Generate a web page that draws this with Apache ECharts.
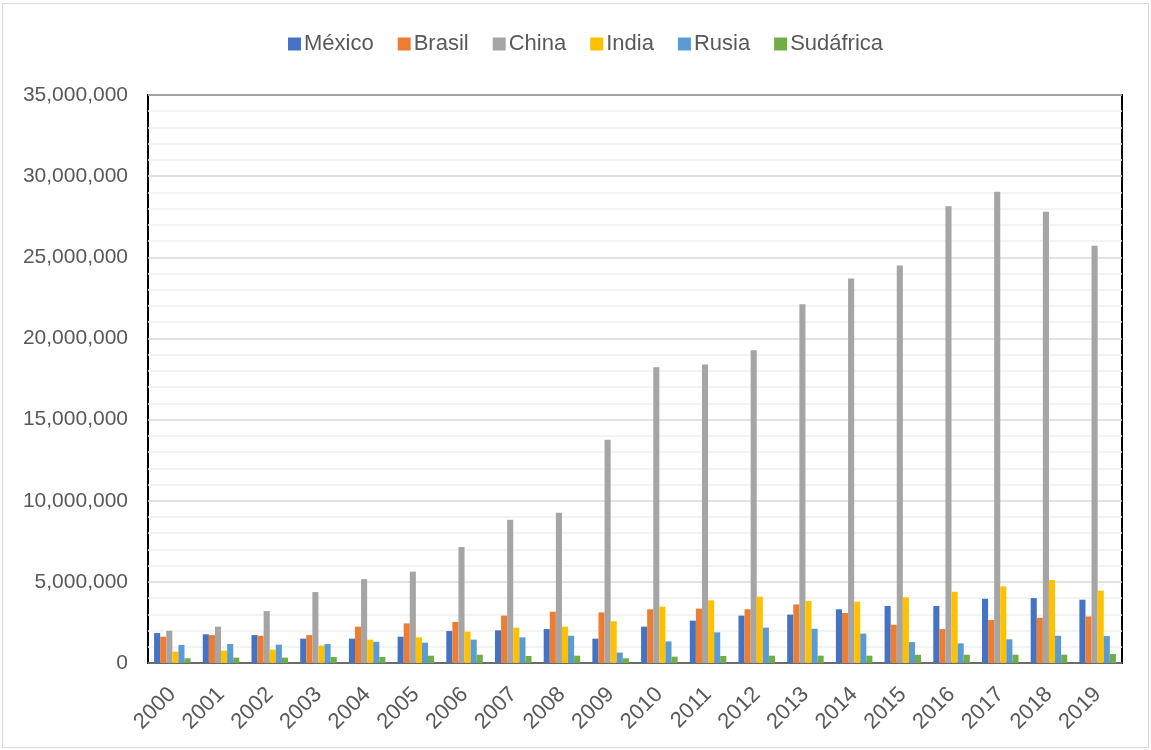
<!DOCTYPE html>
<html>
<head>
<meta charset="utf-8">
<script src="https://cdn.jsdelivr.net/npm/echarts@6/dist/echarts.min.js"></script>
<style>
  html, body { margin: 0; padding: 0; background: #fff; }
  #chart { width: 1151px; height: 750px; position: relative; }
  #frame { position: absolute; left: 2px; top: 3px; width: 1145px; height: 743px;
           border: 1px solid #d9d9d9; pointer-events: none; }
</style>
</head>
<body>
<div id="chart"></div>
<div id="frame"></div>
<script>
// Years on the category axis
const years = ['2000','2001','2002','2003','2004','2005','2006','2007','2008','2009',
               '2010','2011','2012','2013','2014','2015','2016','2017','2018','2019'];

// Values per country
const mexico = [1850000,1770000,1720000,1500000,1500000,1620000,1970000,2010000,2090000,1500000,
                2240000,2610000,2920000,2980000,3310000,3510000,3510000,3960000,4000000,3900000];
const brasil = [1620000,1720000,1680000,1720000,2240000,2440000,2530000,2920000,3160000,3120000,
                3310000,3350000,3310000,3610000,3080000,2360000,2090000,2650000,2790000,2870000];
const china = [1990000,2240000,3200000,4370000,5170000,5630000,7150000,8820000,9260000,13750000,
               18220000,18390000,19270000,22100000,23700000,24500000,28140000,29040000,27810000,25710000];
const india = [700000,760000,820000,1070000,1440000,1580000,1930000,2180000,2240000,2570000,
               3470000,3860000,4090000,3820000,3780000,4050000,4390000,4720000,5110000,4460000];
const rusia = [1110000,1170000,1130000,1170000,1310000,1250000,1440000,1580000,1680000,640000,
               1330000,1890000,2180000,2110000,1810000,1290000,1210000,1460000,1680000,1660000];
const sudafrica = [290000,330000,330000,370000,370000,450000,510000,430000,450000,290000,
                   390000,430000,450000,450000,450000,510000,510000,510000,510000,550000];

// Y axis range and step
const yMin = 0;
const yMax = 35000000;
const yStep = 5000000;

const seriesDefs = [
  { name: 'México', data: mexico, color: '#4472C4' },
  { name: 'Brasil', data: brasil, color: '#ED7D31' },
  { name: 'China', data: china, color: '#A5A5A5' },
  { name: 'India', data: india, color: '#FFC000' },
  { name: 'Rusia', data: rusia, color: '#5B9BD5' },
  { name: 'Sudáfrica', data: sudafrica, color: '#70AD47' }
];

const font = '"Liberation Sans", Arial, sans-serif';
const chart = echarts.init(document.getElementById('chart'), null, { renderer: 'canvas' });

chart.setOption({
  animation: false,
  backgroundColor: '#ffffff',
  textStyle: { fontFamily: font },
  legend: {
    top: 28,
    left: 283,
    icon: 'rect',
    itemWidth: 13,
    itemHeight: 13,
    itemGap: 24,
    textStyle: { fontSize: 22, color: '#595959', fontFamily: font, padding: [0, 0, 0, -2] },
    data: seriesDefs.map(s => s.name)
  },
  grid: {
    left: 148,
    right: 29,
    top: 95,
    bottom: 87,
    show: true,
    borderColor: '#000000',
    borderWidth: 2,
    backgroundColor: 'transparent'
  },
  xAxis: {
    type: 'category',
    data: years,
    axisLine: { show: true, lineStyle: { color: '#595959', width: 1.5 } },
    axisTick: { show: false },
    axisLabel: {
      rotate: 45,
      margin: 28,
      fontSize: 22,
      color: '#595959',
      fontFamily: font
    }
  },
  yAxis: {
    type: 'value',
    min: yMin,
    max: yMax,
    interval: yStep,
    axisLine: { show: false },
    axisTick: { show: false },
    axisLabel: {
      margin: 20,
      fontSize: 21,
      color: '#595959',
      fontFamily: font,
      formatter: v => v.toLocaleString('en-US')
    },
    splitLine: { show: true, lineStyle: { color: '#d9d9d9', width: 1.5 } },
    minorTick: { show: false, splitNumber: 5 },
    minorSplitLine: { show: true, lineStyle: { color: '#f0f0f0', width: 1.5 } }
  },
  series: seriesDefs.map(s => ({
    name: s.name,
    type: 'bar',
    data: s.data,
    barGap: '0%',
    barCategoryGap: '25%',
    itemStyle: { color: s.color }
  }))
});
</script>
</body>
</html>
